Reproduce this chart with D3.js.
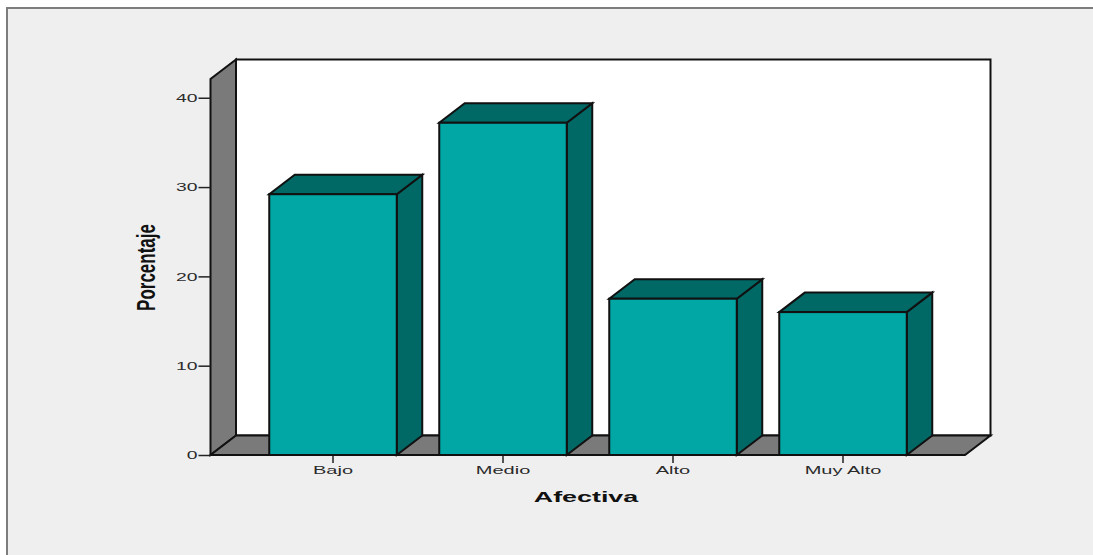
<!DOCTYPE html>
<html>
<head>
<meta charset="utf-8">
<script src="https://cdn.jsdelivr.net/npm/d3@7"></script>
<style>
    html, body { margin: 0; padding: 0; background: #fff; overflow: hidden; }
    svg { display: block; }
    text { font-family: "Liberation Sans", Arial, sans-serif; fill: #2b2b2b; }
</style>
</head>
<body>
<div id="chart"></div>
<script>
var categories = ["Bajo", "Medio", "Alto", "Muy Alto"];
var percentages = [29.2, 37.2, 17.5, 16.0];
var yTicks = [0, 10, 20, 30, 40];
var yMax = 42.1;
var xTitle = "Afectiva";
var yTitle = "Porcentaje";

var width = 1093, height = 555;
var plot = { left: 210.5, right: 965, top: 79, bottom: 455 };
var depth = { x: 25.5, y: -19.5 };

var colors = {
    panel: "#efefef", frame: "#7d7d7d", wall: "#7a7a7a", back: "#ffffff",
    barFront: "#00a7a4", barSide: "#006865", line: "#111111"
};

var svg = d3.select("#chart").append("svg")
    .attr("width", width)
    .attr("height", height);

var x = d3.scaleBand()
    .domain(categories)
    .range([248, 928])
    .paddingInner(0.25)
    .paddingOuter(0.125);

var y = d3.scaleLinear()
    .domain([0, yMax])
    .range([plot.bottom, plot.top]);

// polygon helper, points are [x, y] pairs
var poly = function(points) {
    return "M" + points.map(function(p) { return p[0] + "," + p[1]; }).join("L") + "Z";
};

// the fonts come out too narrow, so widen the glyphs to the wanted length
var stretch = function(selection, factor) {
    selection.each(function() {
        d3.select(this)
            .attr("lengthAdjust", "spacingAndGlyphs")
            .attr("textLength", this.getComputedTextLength() * factor);
    });
};

// panel behind the chart
svg.append("rect")
    .attr("x", 7).attr("y", 8)
    .attr("width", width).attr("height", height)
    .attr("fill", colors.panel)
    .attr("stroke", colors.frame)
    .attr("stroke-width", 2);

var box = svg.append("g")
    .attr("stroke", colors.line)
    .attr("stroke-width", 2)
    .attr("stroke-linejoin", "miter");

// back wall
box.append("rect")
    .attr("x", plot.left + depth.x)
    .attr("y", y(yMax) + depth.y)
    .attr("width", plot.right - plot.left)
    .attr("height", y(0) - y(yMax))
    .attr("fill", colors.back);

// left wall
box.append("path")
    .attr("fill", colors.wall)
    .attr("d", poly([
        [plot.left, y(0)],
        [plot.left, y(yMax)],
        [plot.left + depth.x, y(yMax) + depth.y],
        [plot.left + depth.x, y(0) + depth.y]
    ]));

// floor
box.append("path")
    .attr("fill", colors.wall)
    .attr("d", poly([
        [plot.left, y(0)],
        [plot.right, y(0)],
        [plot.right + depth.x, y(0) + depth.y],
        [plot.left + depth.x, y(0) + depth.y]
    ]));

// Axes
var yAxis = d3.axisLeft(y)
    .tickValues(yTicks)
    .tickSize(12)
    .tickPadding(1);

var xAxis = d3.axisBottom(x)
    .tickSize(8)
    .tickPadding(3);

var yAxisGroup = svg.append("g")
    .attr("transform", "translate(" + plot.left + ",0)")
    .call(yAxis);

var xAxisGroup = svg.append("g")
    .attr("transform", "translate(0," + plot.bottom + ")")
    .call(xAxis);

yAxisGroup.select(".domain").remove();
xAxisGroup.select(".domain").remove();

yAxisGroup.selectAll("line").attr("stroke", "#222").attr("stroke-width", 1.5);
xAxisGroup.selectAll("line").attr("stroke", "#555").attr("stroke-width", 2);

yAxisGroup.selectAll("text")
    .attr("font-size", 11.5)
    .style("fill", "#2b2b2b")
    .call(stretch, 1.68);

xAxisGroup.selectAll("text")
    .attr("font-size", 11.5)
    .style("fill", "#2b2b2b")
    .call(stretch, 1.74);

// Bars, each with a front face, a side face and a top face
var bars = svg.selectAll(".bar")
    .data(percentages)
    .enter().append("g")
    .attr("class", "bar")
    .attr("stroke", colors.line)
    .attr("stroke-width", 2);

bars.append("path")
    .attr("fill", colors.barSide)
    .attr("d", function(d, i) {
        var right = x(categories[i]) + x.bandwidth();
        return poly([
            [right, y(0)],
            [right, y(d)],
            [right + depth.x, y(d) + depth.y],
            [right + depth.x, y(0) + depth.y]
        ]);
    });

bars.append("path")
    .attr("fill", colors.barSide)
    .attr("d", function(d, i) {
        var left = x(categories[i]);
        var right = left + x.bandwidth();
        return poly([
            [left, y(d)],
            [right, y(d)],
            [right + depth.x, y(d) + depth.y],
            [left + depth.x, y(d) + depth.y]
        ]);
    });

bars.append("rect")
    .attr("fill", colors.barFront)
    .attr("x", function(d, i) { return x(categories[i]); })
    .attr("y", function(d) { return y(d); })
    .attr("width", x.bandwidth())
    .attr("height", function(d) { return y(0) - y(d); });

// Axis titles
svg.append("text")
    .attr("x", 586)
    .attr("y", 502)
    .attr("text-anchor", "middle")
    .attr("font-size", 15)
    .attr("font-weight", "bold")
    .style("fill", "#111")
    .text(xTitle)
    .call(stretch, 1.79);

svg.append("text")
    .attr("transform", "translate(155,267.5) rotate(-90) scale(1,1.55)")
    .attr("text-anchor", "middle")
    .attr("font-size", 17)
    .attr("font-weight", "bold")
    .style("fill", "#111")
    .text(yTitle);
</script>
</body>
</html>
